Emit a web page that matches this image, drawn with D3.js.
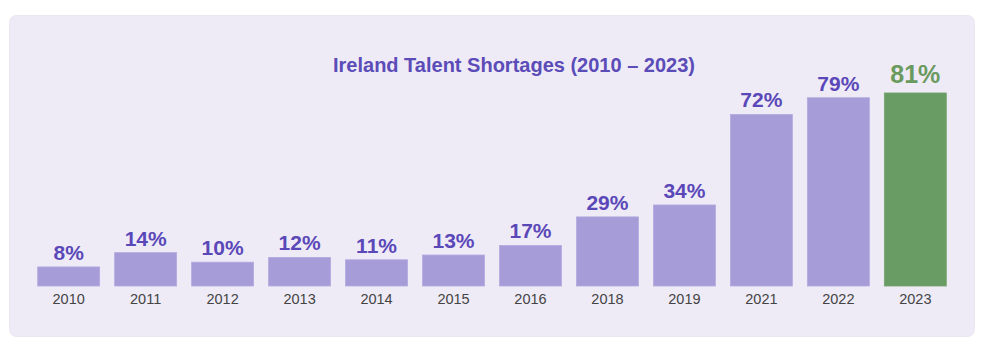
<!DOCTYPE html>
<html>
<head>
<meta charset="utf-8">
<script src="https://cdn.jsdelivr.net/npm/d3@7"></script>
<style>
  html, body { margin: 0; padding: 0; background: #ffffff; }
  svg { display: block; }
</style>
</head>
<body>
<svg id="chart" width="990" height="346"></svg>
<script>
// Ireland talent shortages, % of employers
const years  = ['2010', '2011', '2012', '2013', '2014', '2015', '2016', '2018', '2019', '2021', '2022', '2023'];
const values = [8, 14, 10, 12, 11, 13, 17, 29, 34, 72, 79, 81];
const highlightYear = '2023';

const W = 990, H = 346;
const svg = d3.select('#chart');

// card background
svg.append('rect')
  .attr('x', 9.5).attr('y', 15.5)
  .attr('width', 965).attr('height', 321)
  .attr('rx', 7)
  .attr('fill', '#eeebf7')
  .attr('stroke', '#e9e6f3');

const x = d3.scaleBand()
  .domain(years)
  .range([30, 954])
  .paddingInner(0.195)
  .paddingOuter(0.1);

const y = d3.scaleLinear()
  .domain([0, 100])
  .range([286, 47.7]);

svg.append('text')
  .attr('x', 514).attr('y', 72)
  .attr('text-anchor', 'middle')
  .attr('fill', '#5b4cb8')
  .attr('font-family', 'Liberation Sans, Arial, sans-serif')
  .attr('font-size', 20)
  .attr('font-weight', 'bold')
  .text('Ireland Talent Shortages (2010 – 2023)');

const bars = svg.append('g')
  .selectAll('g')
  .data(years.map((yr, i) => ({ yr, v: values[i] })))
  .join('g');

bars.append('rect')
  .attr('x', d => x(d.yr))
  .attr('y', d => y(d.v))
  .attr('width', x.bandwidth())
  .attr('height', d => y(0) - y(d.v))
  .attr('fill', d => d.yr === highlightYear ? '#689c64' : '#a69cd8')
  .attr('stroke', d => d.yr === highlightYear ? '#72a66d' : '#b3aae0')
  .attr('stroke-width', 0.8);

bars.append('text')
  .attr('x', d => x(d.yr) + x.bandwidth() / 2)
  .attr('y', d => y(d.v) - (d.yr === highlightYear ? 10 : 7))
  .attr('text-anchor', 'middle')
  .attr('fill', d => d.yr === highlightYear ? '#6a9a5e' : '#5b48b8')
  .attr('font-family', 'Liberation Sans, Arial, sans-serif')
  .attr('font-weight', 'bold')
  .attr('font-size', d => d.yr === highlightYear ? 25 : 21)
  .text(d => d.v + '%');

// year labels via a bottom axis with no line
const axis = svg.append('g')
  .attr('transform', `translate(0,${y(0)})`)
  .call(d3.axisBottom(x).tickSize(0).tickPadding(8));
axis.select('.domain').remove();
axis.selectAll('text')
  .attr('fill', '#444444')
  .attr('font-family', 'Liberation Sans, Arial, sans-serif')
  .attr('font-size', 14.5)
  .attr('dy', '0.71em');
</script>
</body>
</html>
